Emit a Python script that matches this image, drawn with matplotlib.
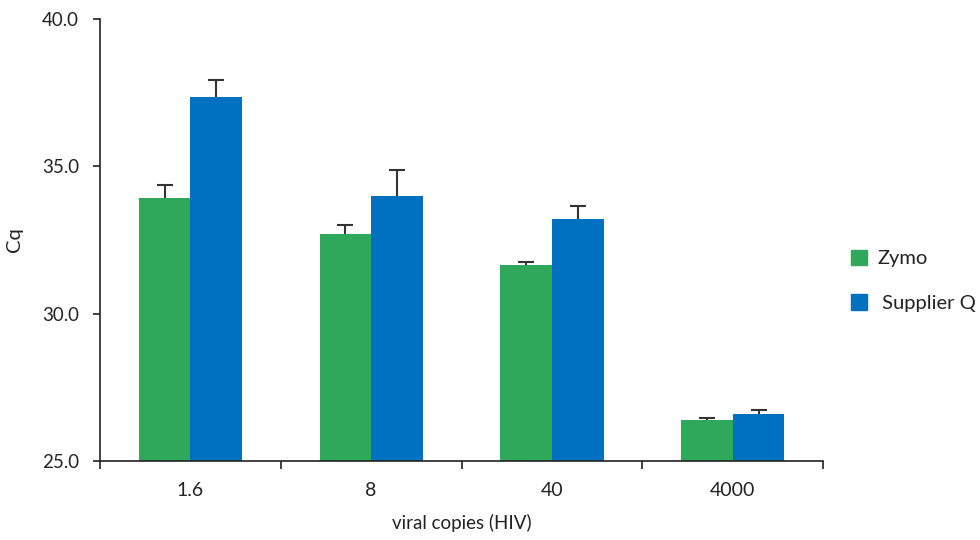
import numpy as np
import matplotlib
matplotlib.use('Agg')
import matplotlib.pyplot as plt
from matplotlib.patches import Patch
from matplotlib.ticker import FixedLocator, NullFormatter

plt.rcParams['font.family'] = ['Lato', 'DejaVu Sans']

# data
categories = ['1.6', '8', '40', '4000']
zymo = [33.92, 32.70, 31.65, 26.39]
zymo_err = [0.45, 0.30, 0.10, 0.08]
supplier = [37.35, 33.99, 33.21, 26.59]
supplier_err = [0.58, 0.88, 0.45, 0.15]

c_zymo = '#2fa85b'
c_sup = '#0070c0'

fig = plt.figure(figsize=(9.8, 5.4), dpi=100)
ax = fig.add_axes([0.102, 0.146, 0.738, 0.819])

x = np.arange(len(categories))
w = 0.285
bottom = 25.0


def draw(xpos, vals, errs, color):
    ax.bar(xpos, np.array(vals) - bottom, w, bottom=bottom, color=color, zorder=2)
    # only the upper half of the error bar is shown
    eb = ax.errorbar(xpos, vals, yerr=[np.zeros(len(vals)), errs], fmt='none',
                     ecolor='#333333', elinewidth=1.5, capsize=6, capthick=1.5, zorder=3)
    caps = eb.lines[1]
    if len(caps) == 2:
        caps[0].set_visible(False)


draw(x - w / 2, zymo, zymo_err, c_zymo)
draw(x + w / 2, supplier, supplier_err, c_sup)

ax.set_xlim(-0.5, len(categories) - 0.5)
ax.set_ylim(25, 40)
ax.set_yticks([25, 30, 35, 40])
ax.set_yticklabels(['25.0', '30.0', '35.0', '40.0'])
ax.set_xticks(x)
ax.set_xticklabels(categories)
ax.xaxis.set_minor_locator(FixedLocator(np.arange(-0.5, len(categories), 1.0)))
ax.xaxis.set_minor_formatter(NullFormatter())
ax.tick_params(axis='x', which='major', length=0, pad=15, labelsize=14, colors='#222222')
ax.tick_params(axis='x', which='minor', length=6, width=1.2, color='#222222')
ax.tick_params(axis='y', length=5, width=1.2, labelsize=13.5, pad=10, colors='#222222')

for s in ['top', 'right']:
    ax.spines[s].set_visible(False)
for s in ['left', 'bottom']:
    ax.spines[s].set_linewidth(1.2)
    ax.spines[s].set_color('#222222')

ax.set_ylabel('Cq', fontsize=14.5, labelpad=14, color='#222222')
ax.set_xlabel('viral copies (HIV)', fontsize=13.5, labelpad=11, color='#222222')

handles = [Patch(color=c_zymo), Patch(color=c_sup)]
fig.legend(handles, ['Zymo', ' Supplier Q'], loc='center left',
           bbox_to_anchor=(0.85, 0.48), frameon=False, fontsize=14.5,
           handlelength=0.8, handleheight=0.8, handletextpad=0.5,
           labelspacing=1.35, labelcolor='#222222')

fig.savefig('out.png', dpi=100)
